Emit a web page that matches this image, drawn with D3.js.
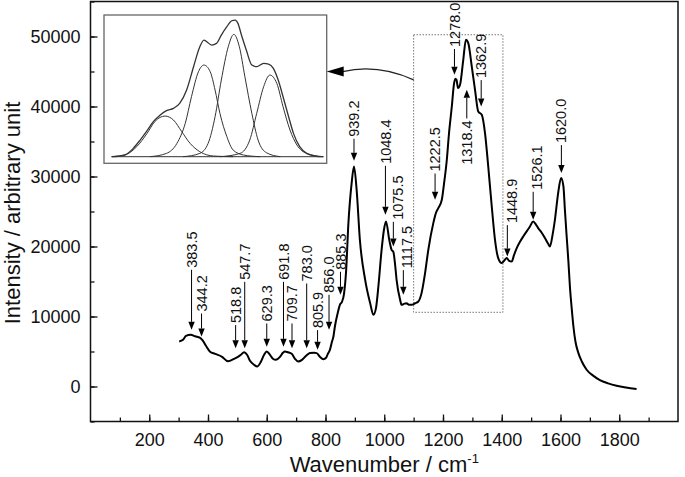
<!DOCTYPE html>
<html>
<head>
<meta charset="utf-8">
<script src="https://cdn.jsdelivr.net/npm/d3@7"></script>
<style>
  body { margin: 0; background: #fff; }
  text { font-family: Arial, "Liberation Sans", sans-serif; fill: #111; }
</style>
</head>
<body>
<div id="chart"></div>
<script>
// Raman spectrum (wavenumber / intensity)
const wavenumber = [302,315,325,341,356,373,383,393,407,424,448,468,489,502,512,523,533,543,557,568,580,591,600,611,621,631,645,655,662,672,685,696,707,720,734,747,761,770,781,793,802,808,815,822,827,832,841,849,856,863,870,878,889,897,906,917,935,952,963,972,980,991,999,1006,1017,1025,1031,1037,1042,1054,1059,1067,1076,1084,1093,1105,1116,1127,1139,1150,1167,1176,1184,1196,1203,1213,1220,1230,1237,1242,1246,1251,1258,1269,1278,1286,1298,1309,1320,1332,1343,1354,1366,1377,1388,1400,1408,1417,1425,1434,1442,1451,1462,1473,1486,1496,1507,1517,1524,1536,1547,1558,1564,1573,1581,1592,1602,1610,1615,1621,1627,1632,1638,1644,1651,1661,1673,1689,1711,1734,1762,1791,1823,1859];
const intensity = [6430,6670,7240,7390,7170,6960,6530,5810,4960,4670,4240,3600,3960,4240,4530,4910,4530,3670,3100,2860,3530,4530,5000,4530,3960,3810,4240,4810,5000,4890,4670,3960,3570,3810,4390,4770,4810,4770,4240,3910,4100,4670,5240,6390,7140,8570,10390,11670,12100,13240,16390,23340,29060,31430,28100,20960,15240,11910,10240,11240,14290,19530,22390,23570,20960,19530,19240,17390,15240,12390,11670,11810,11910,11670,11670,11890,12140,13340,16200,19530,23340,24810,25490,26670,28810,32390,35960,40000,43100,43960,43810,42630,43100,46670,49530,49060,45710,42390,39290,38810,36200,31430,25710,20960,18340,17630,17960,18340,17960,17860,18810,19770,20670,21430,22240,22860,23570,23100,22630,21960,21200,20390,20000,21670,23810,27630,29770,28570,25240,21430,17810,14290,11240,8570,6390,4770,3530,2390,1550,920,450,100,-150,-350];

// peak annotations
const peakLabels = ["383.5","344.2","518.8","547.7","629.3","691.8","709.7","783.0","805.9","856.0","885.3","939.2","1048.4","1075.5","1117.5","1222.5","1278.0","1318.4","1362.9","1448.9","1526.1","1620.0"];
const arrowX   = [344,378,494,525,600,657,686,736,773,812,851,897,1004,1031,1065,1173,1239,1281,1330,1419,1507,1603];
const labelX   = [344,378,494,525,600,657,686,736,773,812,851,897,1004,1047,1076,1173,1239,1281,1330,1434,1519,1603];
const arrowTip = [8100,7140,5460,5460,5670,5670,5460,5460,5240,8100,13100,32240,24530,20000,13100,26670,44530,42390,40000,18570,23810,30490];
const labelBase = [16960,10710,9060,15240,9290,15240,9290,15000,8340,13390,16670,35670,31810,23810,16910,30710,48500,31670,44060,23340,28100,34770];

// dotted region shown in the inset
const boxWn = [1100, 1404];
const boxInt = [10600, 50250];

// inset: measured envelope and four fitted bands
const envWn  = [1100,1119,1131,1141,1150,1160,1170,1179,1189,1198,1208,1218,1227,1233,1237,1244,1251,1258,1266,1273,1278,1282,1287,1294,1302,1309,1319,1326,1333,1340,1347,1355,1362,1371,1381,1393,1405];
const envInt = [0,460,2290,4570,6860,9600,11430,12620,13260,14630,18290,24690,30170,32000,31540,30630,31090,33370,35660,37300,37490,36570,33370,29260,25140,24690,25600,25420,24230,21030,16460,10970,6400,2740,910,180,0];
const band1Wn  = [1100,1122,1136,1151,1162,1177,1189,1201,1213,1227,1247,1275];
const band1Int = [0,730,2740,6400,9600,11150,10060,6860,3660,1370,180,0];
const band2Wn  = [1155,1179,1194,1206,1215,1225,1233,1242,1249,1256,1266,1275,1290,1314];
const band2Int = [0,910,3660,9140,16460,23310,25140,23310,18290,11890,5490,1830,460,0];
const band3Wn  = [1203,1227,1239,1249,1258,1268,1276,1284,1292,1302,1311,1323,1343];
const band3Int = [0,910,3660,10970,21030,30170,33560,30170,21940,11890,4570,1100,0];
const band4Wn  = [1256,1285,1299,1309,1319,1328,1338,1347,1357,1367,1381,1405];
const band4Int = [0,910,4570,11890,19200,22400,20110,13710,7310,3200,910,0];

const xTicks = [200,400,600,800,1000,1200,1400,1600,1800];
const yTicks = [0,10000,20000,30000,40000,50000];

const W = 685, H = 477;
const svg = d3.select("#chart").append("svg")
  .attr("width", W).attr("height", H);

const x = d3.scaleLinear().domain([0, 2000]).range([90.5, 678]);
const y = d3.scaleLinear().domain([-5000, 55000]).range([421.5, 1.5]);

// minor ticks
svg.append("g")
  .attr("transform", `translate(0,${y.range()[0]})`)
  .call(d3.axisBottom(x).tickValues(d3.range(100, 2000, 100)).tickSizeInner(-4).tickSizeOuter(0).tickFormat(""))
  .call(g => g.select(".domain").remove());
svg.append("g")
  .attr("transform", `translate(${x.range()[0]},0)`)
  .call(d3.axisLeft(y).tickValues(d3.range(-5000, 55001, 5000)).tickSizeInner(-4).tickSizeOuter(0).tickFormat(""))
  .call(g => g.select(".domain").remove());

// major ticks + labels
const xAxis = svg.append("g")
  .attr("transform", `translate(0,${y.range()[0]})`)
  .call(d3.axisBottom(x).tickValues(xTicks).tickSizeInner(-7).tickSizeOuter(0).tickPadding(12).tickFormat(d3.format("d")));
xAxis.select(".domain").remove();
xAxis.selectAll("text").style("font-size", "18px");

const yAxis = svg.append("g")
  .attr("transform", `translate(${x.range()[0]},0)`)
  .call(d3.axisLeft(y).tickValues(yTicks).tickSizeInner(-7).tickSizeOuter(0).tickPadding(10).tickFormat(d3.format("d")));
yAxis.select(".domain").remove();
yAxis.selectAll("text").style("font-size", "18px");
svg.selectAll(".tick line").attr("stroke", "#111").attr("stroke-width", 1.3);

// frame
svg.append("rect")
  .attr("x", x.range()[0]).attr("y", y.range()[1])
  .attr("width", x.range()[1] - x.range()[0])
  .attr("height", y.range()[0] - y.range()[1])
  .attr("fill", "none").attr("stroke", "#111").attr("stroke-width", 1.5);

// axis titles
const xt = svg.append("text")
  .attr("x", (x.range()[0] + x.range()[1]) / 2).attr("y", 472)
  .attr("text-anchor", "middle").style("font-size", "22px")
  .text("Wavenumber / cm");
xt.append("tspan").attr("dy", -9).style("font-size", "13px").text("-1");

svg.append("text")
  .attr("transform", `translate(12,213) rotate(-90)`)
  .attr("text-anchor", "middle").attr("dy", "0.35em")
  .style("font-size", "22px")
  .text("Intensity / arbitrary unit");

// dotted box
svg.append("rect")
  .attr("x", x(boxWn[0])).attr("y", y(boxInt[1]))
  .attr("width", x(boxWn[1]) - x(boxWn[0]))
  .attr("height", y(boxInt[0]) - y(boxInt[1]))
  .attr("fill", "none").attr("stroke", "#555")
  .attr("stroke-width", 1).attr("stroke-dasharray", "1.2,1.8");

// spectrum
const spectrum = wavenumber.map((d, i) => [d, intensity[i]]);
svg.append("path")
  .datum(spectrum)
  .attr("fill", "none").attr("stroke", "#000").attr("stroke-width", 2)
  .attr("stroke-linejoin", "round")
  .attr("d", d3.line().x(d => x(d[0])).y(d => y(d[1])).curve(d3.curveMonotoneX));

// peak labels with arrows
const fontPx = 14.5, head = 8, gap = 2;
peakLabels.forEach((lab, i) => {
  const g = svg.append("g");
  const lx = x(labelX[i]), ax = x(arrowX[i]);
  const yb = y(labelBase[i]), yt = y(arrowTip[i]);
  const t = g.append("text")
    .attr("transform", `translate(${lx},${yb}) rotate(-90)`)
    .attr("dy", "0.35em").style("font-size", fontPx + "px")
    .text(lab);
  const len = t.node().getComputedTextLength();
  const up = arrowTip[i] > labelBase[i];
  let y0, y1, dir;
  if (up) { y0 = yb - len - gap; y1 = yt; dir = -1; }
  else { y0 = yb + gap; y1 = yt; dir = 1; }
  g.append("line")
    .attr("x1", ax).attr("x2", ax)
    .attr("y1", y0).attr("y2", y1 - dir * head)
    .attr("stroke", "#000").attr("stroke-width", 1);
  g.append("path")
    .attr("d", `M${ax},${y1} L${ax - 3.2},${y1 - dir * head} L${ax + 3.2},${y1 - dir * head} Z`)
    .attr("fill", "#000");
});

// inset
const inset = { x0: 104, y0: 15, x1: 326.7, y1: 163.3 };
svg.append("rect")
  .attr("x", inset.x0).attr("y", inset.y0)
  .attr("width", inset.x1 - inset.x0).attr("height", inset.y1 - inset.y0)
  .attr("fill", "#fff").attr("stroke", "#666").attr("stroke-width", 1.3);

const ix = d3.scaleLinear().domain([1100, 1405]).range([111.7, 323.3]);
const iy = d3.scaleLinear().domain([0, 37500]).range([156.7, 20]);
const iline = d3.line().x(d => ix(d[0])).y(d => iy(d[1])).curve(d3.curveMonotoneX);

[[band1Wn, band1Int], [band2Wn, band2Int], [band3Wn, band3Int], [band4Wn, band4Int], [envWn, envInt]]
  .forEach(([xs, ys], k) => {
    svg.append("path")
      .datum(xs.map((d, i) => [d, ys[i]]))
      .attr("fill", "none").attr("stroke", "#333")
      .attr("stroke-width", k === 4 ? 1.3 : 1)
      .attr("d", iline);
  });
// baseline of the inset
svg.append("line")
  .attr("x1", ix(1100)).attr("x2", ix(1405))
  .attr("y1", iy(0)).attr("y2", iy(0))
  .attr("stroke", "#333").attr("stroke-width", 1);

// connector arrow from the dotted box to the inset
const sx = x(boxWn[0]), sy = y(43800);
const ex = inset.x1, ey = sy - 8.3;
svg.append("path")
  .attr("d", `M${sx},${sy} Q${sx - 36},${ey - 8} ${ex + 16},${ey}`)
  .attr("fill", "none").attr("stroke", "#222").attr("stroke-width", 1.2);
svg.append("path")
  .attr("d", `M${ex},${ey} L${ex + 17},${ey - 5} L${ex + 17},${ey + 5} Z`)
  .attr("fill", "#000");
</script>
</body>
</html>
